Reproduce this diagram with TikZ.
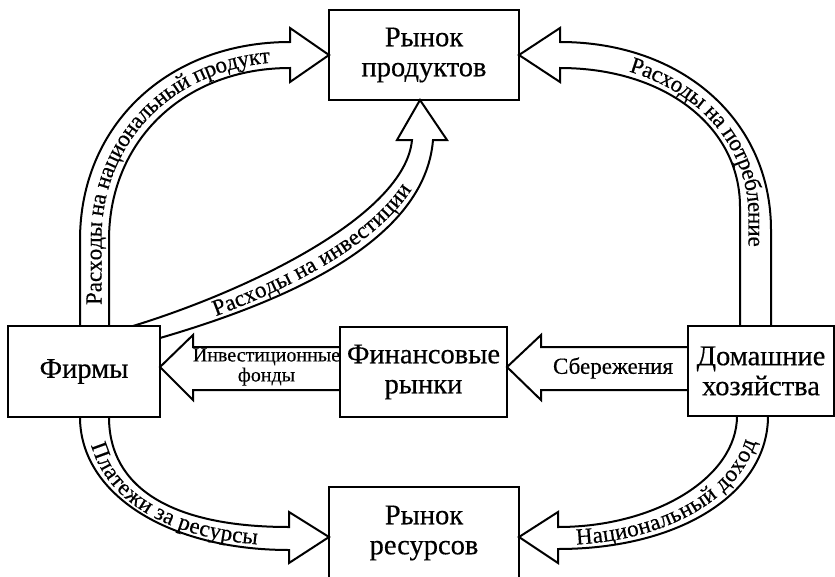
\documentclass[tikz,border=0pt]{standalone}
\usepackage{fontspec}
\setmainfont{Liberation Serif}
\newfontfamily\cyrserif[FakeBold=0.4]{Liberation Serif}
\usetikzlibrary{decorations.text,calc}
\newcommand\arrlabfont{\cyrserif\fontsize{23}{23}\selectfont}
\newcommand\boxtextfont{\cyrserif\fontsize{28.5}{30}\selectfont}
\begin{document}
\begin{tikzpicture}[x=1pt,y=-1pt,
  box/.style={draw, line width=2.6pt, inner sep=0pt, outer sep=0pt, align=center, font=\boxtextfont},
  arr/.style={line width=2pt, line join=miter},
  lab/.style={font=\arrlabfont, align=center, inner sep=0pt},
  curvlab/.style={decorate, decoration={text along path, text={|\arrlabfont|#1}, text align=left, raise=-7pt}},
  indent/.style={decoration={text align={left indent=#1}}}
]
\useasboundingbox (0,0) rectangle (835,576);
\clip (0,0) rectangle (835,576);

% boxes
\node[box, minimum width=190pt, minimum height=90pt] (prod) at (424,55) {Рынок\\продуктов};
\node[box, minimum width=152pt, minimum height=91pt] (firms) at (84,371.5) {Фирмы};
\node[box, minimum width=167pt, minimum height=90pt] (fin) at (423.5,372) {Финансовые\\рынки};
\node[box, minimum width=146pt, minimum height=90pt] (home) at (761,371) {Домашние\\хозяйства};
\node[box, minimum width=190pt, minimum height=92pt] (res) at (424,533) {Рынок\\ресурсов};

% national product: firms -> product market
\draw[arr] ($(firms.north west)+(72,0)$) -- (80,240) .. controls (80,125) and (168,42) .. (290,42)
  -- (290,28) -- (prod.west) -- (290,82) -- (290,68)
  .. controls (185,68) and (109,140) .. (109,240) -- ($(firms.north west)+(101,0)$);
\path[curvlab={Расходы на национальный продукт}, indent=21pt]
  (94.5,326) -- (94.5,240) .. controls (94.5,133) and (176,55) .. (290,55);

% consumption: households -> product market
\draw[arr] ($(home.north west)+(83,0)$) -- (771,230) .. controls (771,120) and (682,42) .. (560,42)
  -- (560,28) -- (prod.east) -- (560,82) -- (560,68)
  .. controls (664,68) and (740,126) .. (740,207) -- ($(home.north west)+(52,0)$);
\path[curvlab={Расходы на потребление}, indent=72pt]
  (560,55) .. controls (673,55) and (755.5,123) .. (755.5,218) -- (755.5,326);

% investment: firms -> product market
\draw[arr] ($(firms.north west)+(125,0)$) .. controls (250,290) and (405,215) .. (412,140)
  -- (397,140) -- ($(prod.south)+(-4,0)$) -- (447,140) -- (433,140)
  .. controls (425,240) and (290,300) .. ($(firms.north east)+(0,12)$);
\path[curvlab={Расходы на инвестиции}, indent=70pt]
  (147,332) .. controls (270,295) and (415,228) .. (422.5,140);

% payments for resources: firms -> resource market
\draw[arr] ($(firms.south west)+(72,0)$) .. controls (80,494) and (168,550) .. (289,550)
  -- (289,563) -- ($(res.north west)+(0,50)$) -- (289,512) -- (289,527)
  .. controls (172,527) and (109,488) .. ($(firms.south west)+(101,0)$);
\path[curvlab={Платежи за ресурсы}, indent=26pt]
  (94.5,417) .. controls (94.5,491) and (170,538.5) .. (289,538.5);

% national income: households -> resource market
\draw[arr] ($(home.south west)+(80,0)$) .. controls (768,493) and (680,549) .. (558,549)
  -- (558,563) -- ($(res.north east)+(0,50)$) -- (558,512) -- (558,527)
  .. controls (656,527) and (737,477) .. ($(home.south west)+(49,0)$);
\path[curvlab={Национальный доход}, indent=18pt]
  (558,538) .. controls (668,538) and (752.5,486) .. (752.5,416);

% investment funds: financial markets -> firms
\draw[arr] ($(fin.north west)+(0,20)$) -- (193,347) -- (193,335) -- ($(firms.north east)+(0,41)$)
  -- (193,400) -- (193,390) -- ($(fin.north west)+(0,63)$);
\node[lab, font=\cyrserif\fontsize{20}{20}\selectfont] (invlab) at (266.5,367) {Инвестиционные\\фонды};

% savings: households -> financial markets
\draw[arr] ($(home.north west)+(0,21)$) -- (541,347) -- (541,335) -- ($(fin.north east)+(0,40)$)
  -- (541,400) -- (541,390) -- ($(home.north west)+(0,64)$);
\node[lab, font=\cyrserif\fontsize{23}{23}\selectfont] (savlab) at (613,368) {Сбережения};
\end{tikzpicture}
\end{document}
